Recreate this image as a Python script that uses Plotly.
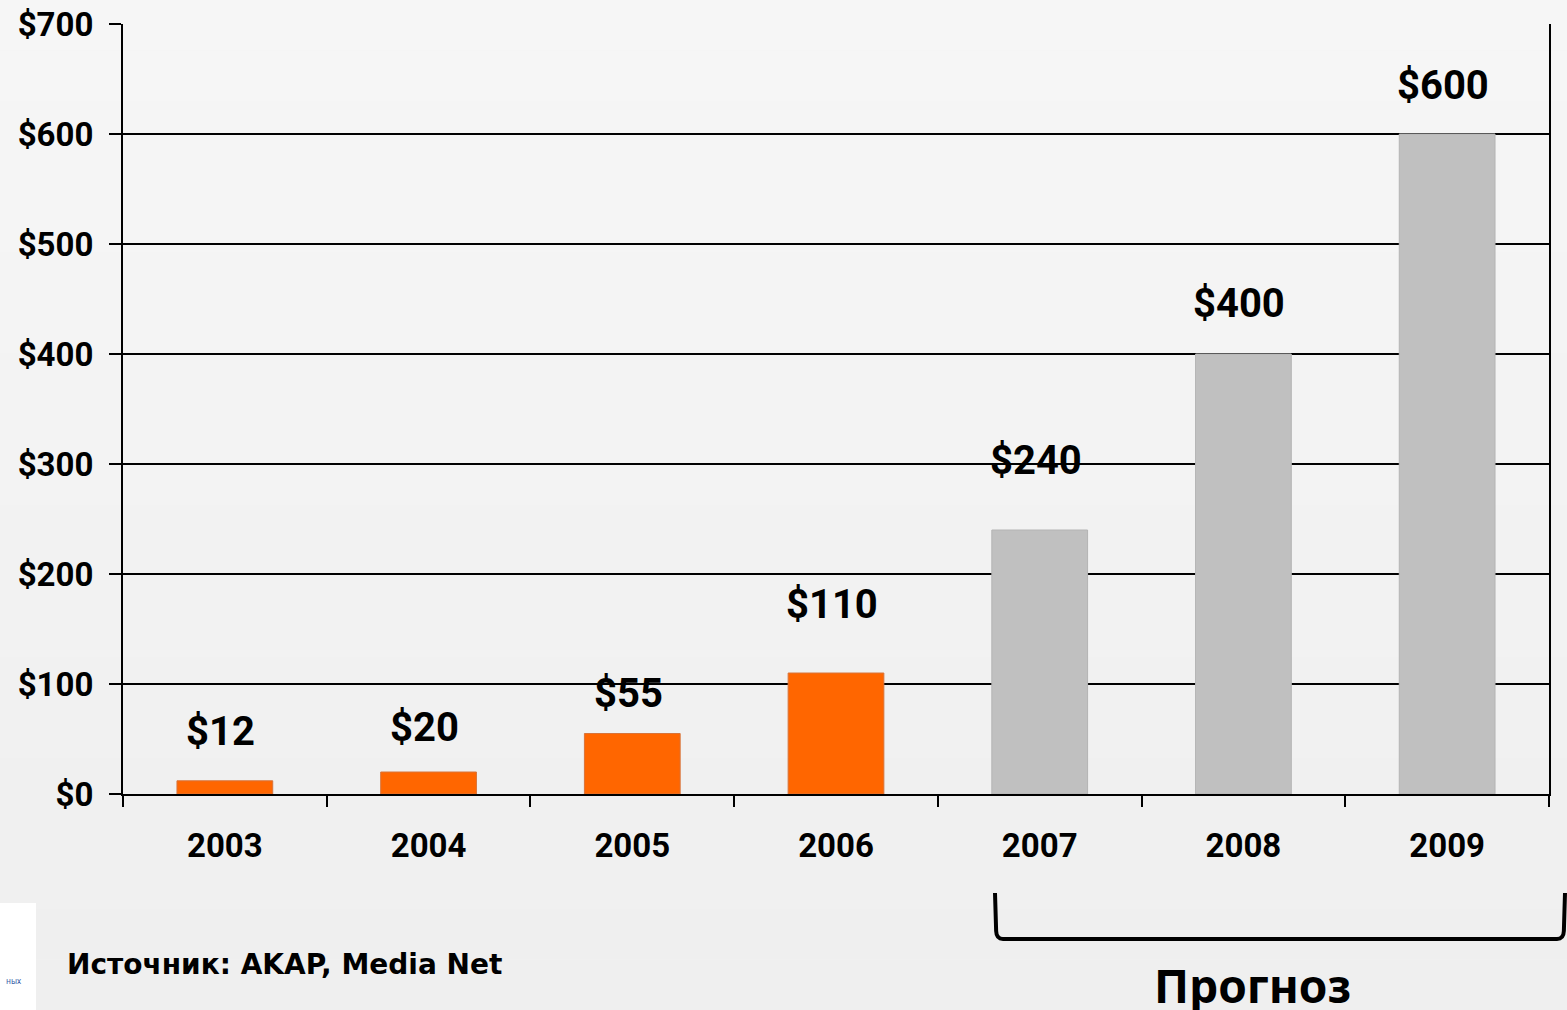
import plotly.graph_objects as go

years = ["2003", "2004", "2005", "2006", "2007", "2008", "2009"]
values = [12, 20, 55, 110, 240, 400, 600]
labels = ["$12", "$20", "$55", "$110", "$240", "$400", "$600"]
is_forecast = [False, False, False, False, True, True, True]
y_ticks = [0, 100, 200, 300, 400, 500, 600, 700]
y_tick_text = ["$0", "$100", "$200", "$300", "$400", "$500", "$600", "$700"]
label_shift = [24, 19, 15, 43, 44, 25, 23]

source_text = "Источник: AKAP, Media Net"
forecast_text = "Прогноз"

W, H = 1567, 1010
L, R, T, B = 123, 18, 24, 216
pw, ph = W - L - R, H - T - B


def px_x(x):
    return (x - L) / pw


def px_y(y):
    return (H - B - y) / ph


colors = ["#c0c0c0" if f else "#ff6600" for f in is_forecast]
edges = ["#b4b4b4" if f else "#d8743a" for f in is_forecast]

fig = go.Figure()
fig.add_trace(go.Bar(
    x=years, y=values, width=0.47,
    marker=dict(color=colors, line=dict(color=edges, width=1)),
    hoverinfo="skip",
))

annotations = []
for i, (v, t, s) in enumerate(zip(values, labels, label_shift)):
    annotations.append(dict(
        x=i, y=v, xref="x", yref="y", text=t, showarrow=False,
        yanchor="bottom", xanchor="center", yshift=s, xshift=-4,
        font=dict(family="Roboto", size=40, color="#000000", weight="bold"),
    ))

annotations.append(dict(
    x=px_x(65), y=px_y(964), xref="paper", yref="paper", text=source_text,
    showarrow=False, xanchor="left", yanchor="middle",
    font=dict(family="DejaVu Sans", size=28, color="#000000", weight="bold"),
))
annotations.append(dict(
    x=px_x(1252), y=px_y(985), xref="paper", yref="paper", text=forecast_text,
    showarrow=False, xanchor="center", yanchor="middle",
    font=dict(family="Noto Sans", size=46, color="#000000", weight="bold"),
))
annotations.append(dict(
    x=px_x(14), y=px_y(980), xref="paper", yref="paper", text="ных",
    showarrow=False, xanchor="center", yanchor="middle",
    font=dict(family="Noto Sans", size=8, color="#3a5fa8"),
))

shapes = []
# subtle vertical background gradient
n_bands = 20
top_c = (246, 246, 246)
bot_c = (239, 239, 239)
for i in range(n_bands):
    f = i / (n_bands - 1)
    c = tuple(round(top_c[k] + (bot_c[k] - top_c[k]) * f) for k in range(3))
    shapes.append(dict(
        type="rect", xref="paper", yref="paper",
        x0=px_x(0), x1=px_x(W),
        y0=px_y(H * (i + 1) / n_bands), y1=px_y(H * i / n_bands),
        fillcolor="rgb(%d,%d,%d)" % c, line=dict(width=0), layer="below",
    ))

# white logo box at bottom left
shapes.append(dict(
    type="rect", xref="paper", yref="paper",
    x0=px_x(0), x1=px_x(36), y0=px_y(H), y1=px_y(903),
    fillcolor="#ffffff", line=dict(width=0), layer="below",
))

# forecast bracket
x0, x1 = px_x(995), px_x(1565)
ytop, ybot = px_y(893), px_y(939)
ycurve = px_y(931)
xc0, xc1 = px_x(1003), px_x(1557)
path = (f"M {x0},{ytop} L {x0 + 0.0008},{ycurve} Q {x0 + 0.001},{ybot} {xc0},{ybot} "
        f"L {xc1},{ybot} Q {x1 - 0.001},{ybot} {x1 - 0.0008},{ycurve} L {x1},{ytop}")
shapes.append(dict(
    type="path", xref="paper", yref="paper", path=path,
    line=dict(color="#000000", width=4),
))

fig.update_layout(
    width=W, height=H,
    margin=dict(l=L, r=R, t=T, b=B, pad=0, autoexpand=False),
    paper_bgcolor="#f2f2f2",
    plot_bgcolor="rgba(0,0,0,0)",
    showlegend=False,
    annotations=annotations,
    shapes=shapes,
    xaxis=dict(
        type="category",
        range=[-0.5, len(years) - 0.5],
        automargin=False,
        showline=True, linecolor="#000000", linewidth=2,
        ticks="outside", tickson="boundaries", ticklen=11, tickwidth=2,
        tickcolor="#000000",
        showgrid=False,
        tickfont=dict(family="Roboto", size=33, color="#000000", weight="bold"),
        ticklabelstandoff=21,
    ),
    yaxis=dict(
        range=[0, 700],
        automargin=False,
        tickmode="array", tickvals=y_ticks, ticktext=y_tick_text,
        showline=True, linecolor="#000000", linewidth=2, mirror=True,
        ticks="outside", ticklen=12, tickwidth=2, tickcolor="#000000",
        showgrid=True, gridcolor="#000000", gridwidth=2,
        zeroline=False,
        tickfont=dict(family="Roboto", size=33, color="#000000", weight="bold"),
        ticklabelstandoff=9,
    ),
)

fig.write_html("out.html", config={"displayModeBar": False},
               post_script="document.body.style.margin='0';")
